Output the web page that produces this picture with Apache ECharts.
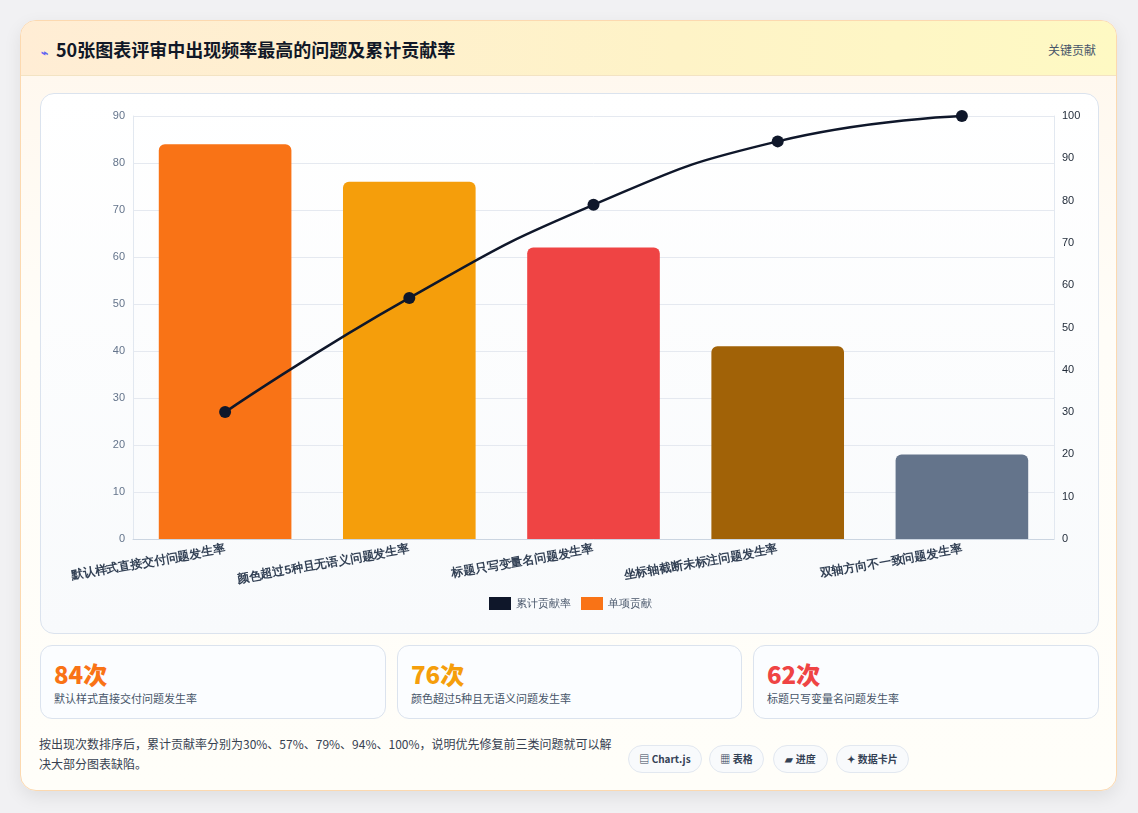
<!DOCTYPE html>
<html><head><meta charset="utf-8">
<script src="https://cdn.jsdelivr.net/npm/echarts@6/dist/echarts.min.js"></script>
<style>
*{box-sizing:border-box;margin:0;padding:0}
body{width:1138px;height:813px;background:#f1f1f3;font-family:"Noto Sans CJK SC","Noto Sans",sans-serif;position:relative;overflow:hidden}
.card{position:absolute;left:20px;top:20px;width:1097px;height:771px;border:1px solid #fcd9b0;border-radius:16px;background:linear-gradient(180deg,#fff7ed,#fffdf8 40%,#fffef9);box-shadow:0 6px 18px rgba(0,0,0,.08);overflow:hidden}
.head{position:absolute;left:0;top:0;width:100%;height:55px;background:linear-gradient(90deg,#ffedd5,#fef3c7 60%,#fef9c3);border-bottom:1px solid #f3e3c3}
.head h1{position:absolute;left:20px;top:15px;font-size:18px;font-weight:700;color:#111827}
.head h1 span{color:#6366f1;font-size:12px;margin-right:8px}
.head .r{position:absolute;right:20px;top:20px;font-size:12px;color:#475569}
.panel{position:absolute;left:19px;top:72px;width:1059px;height:541px;border:1px solid #dbe3ee;border-radius:14px;background:linear-gradient(180deg,#fff,#f8fafc)}
#c{position:absolute;left:0;top:0;width:1059px;height:541px}
.stat{position:absolute;top:624px;height:74px;border:1px solid #dbe3ee;border-radius:12px;background:#fbfdff}
.stat b{position:absolute;left:13px;top:10px;font-size:24px;font-weight:800}
.stat i{position:absolute;left:13px;top:44px;font-size:11px;color:#475569;font-style:normal}
.foot{position:absolute;left:18px;top:713px;font-size:12px;line-height:20px;color:#374151;width:580px}
.chip{position:absolute;top:724px;height:28px;border:1px solid #e2e8f0;border-radius:14px;background:#f8fafc;font-size:10px;font-weight:700;color:#334155;line-height:26px;text-align:center}
</style></head><body>
<div class="card">
<div class="head"><h1><span>⌁</span>50张图表评审中出现频率最高的问题及累计贡献率</h1><div class="r">关键贡献</div></div>
<div class="panel"><div id="c"></div></div>
<div class="stat" style="left:19px;width:346px"><b style="color:#f97316">84次</b><i>默认样式直接交付问题发生率</i></div>
<div class="stat" style="left:376px;width:345px"><b style="color:#f59e0b">76次</b><i>颜色超过5种且无语义问题发生率</i></div>
<div class="stat" style="left:732px;width:346px"><b style="color:#ef4444">62次</b><i>标题只写变量名问题发生率</i></div>
<div class="foot">按出现次数排序后，累计贡献率分别为30%、57%、79%、94%、100%，说明优先修复前三类问题就可以解决大部分图表缺陷。</div>
<div class="chip" style="left:607px;width:74px">▤ Chart.js</div>
<div class="chip" style="left:688px;width:55px">▦ 表格</div>
<div class="chip" style="left:752px;width:55px">▰ 进度</div>
<div class="chip" style="left:815px;width:73px">✦ 数据卡片</div>
</div>
<script>
const categories=["默认样式直接交付问题发生率","颜色超过5种且无语义问题发生率","标题只写变量名问题发生率","坐标轴截断未标注问题发生率","双轴方向不一致问题发生率"];
const counts=[84,76,62,41,18];
const cumulative=[30,57,79,94,100];
const barColors=["#f97316","#f59e0b","#ef4444","#a16207","#64748b"];
const ch=echarts.init(document.getElementById('c'));
const lab={color:'#64748b',fontSize:11};
ch.setOption({
 animation:false,
 grid:{left:92,right:46,top:22,bottom:96},
 legend:{bottom:20,itemWidth:22,itemHeight:13,itemGap:10,textStyle:{color:'#475569',fontSize:11},
  data:[{name:'累计贡献率',icon:'rect',itemStyle:{color:'#0f172a'}},{name:'单项贡献',icon:'rect',itemStyle:{color:'#f97316'}}]},
 xAxis:{type:'category',data:categories,axisTick:{show:false},axisLine:{lineStyle:{color:'#cbd5e1'}},
  axisLabel:{rotate:10,color:'#334155',fontSize:12,fontWeight:'bold',interval:0,margin:10}},
 yAxis:[{type:'value',min:0,max:90,interval:10,axisLabel:lab,splitLine:{lineStyle:{color:'#e5e9f0'}},axisLine:{show:true,lineStyle:{color:'#e2e8f0'}}},
  {type:'value',min:0,max:100,interval:10,axisLabel:{color:'#1f2937',fontSize:11},splitLine:{show:false},axisLine:{show:true,lineStyle:{color:'#e2e8f0'}}}],
 series:[
  {name:'单项贡献',type:'bar',barWidth:'72%',data:counts.map((v,i)=>({value:v,itemStyle:{color:barColors[i],borderRadius:[6,6,0,0]}}))},
  {name:'累计贡献率',type:'line',yAxisIndex:1,smooth:true,data:cumulative,symbol:'circle',symbolSize:12,
   lineStyle:{color:'#0f172a',width:2.5},itemStyle:{color:'#0f172a'}}
 ]
});
</script>
</body></html>
